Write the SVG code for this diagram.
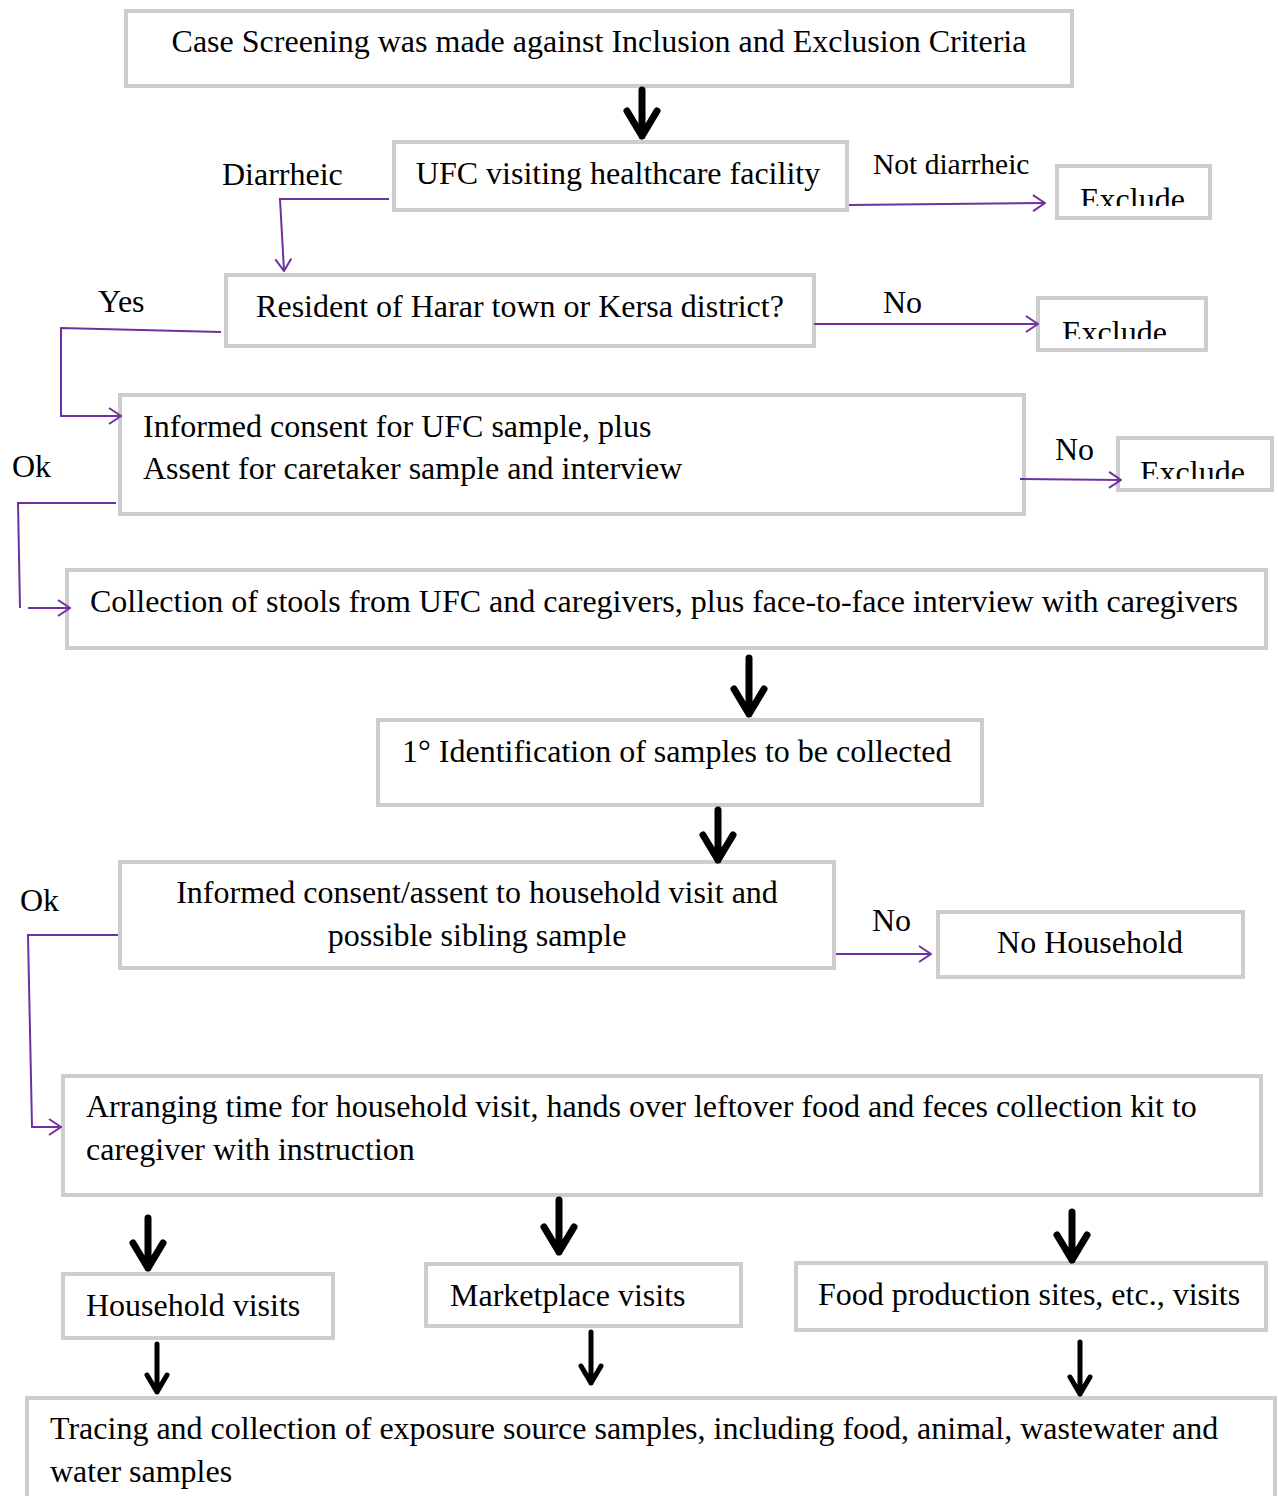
<svg xmlns="http://www.w3.org/2000/svg" width="1278" height="1496" viewBox="0 0 1278 1496">
<style>
.box{fill:#fff;stroke:#cdcdcd;stroke-width:4}
.t{font-family:"Liberation Serif","Times New Roman",serif;font-size:32px;fill:#000}
.s{font-size:29.5px}
.c{stroke:#7030a0;stroke-width:2;fill:none}
.ba{stroke:#000;stroke-width:7;fill:none;stroke-linecap:round;stroke-linejoin:round}
.bs{stroke:#000;stroke-width:5;fill:none;stroke-linecap:round;stroke-linejoin:round}
</style>
<defs>
<marker id="pa" markerUnits="userSpaceOnUse" markerWidth="14" markerHeight="20" refX="13" refY="10" orient="auto" viewBox="0 0 14 20">
<path d="M1,2 L13,10 L1,18" fill="none" stroke="#7030a0" stroke-width="2"/>
</marker>
<clipPath id="cx1"><rect x="1059" y="168" width="149" height="38"/></clipPath>
<clipPath id="cx2"><rect x="1040" y="300" width="164" height="39"/></clipPath>
<clipPath id="cx3"><rect x="1120" y="440" width="150" height="39"/></clipPath>
</defs>
<rect width="1278" height="1496" fill="#fff"/>

<g id="n1"><rect class="box" x="126" y="11" width="946" height="75"/><text class="t" x="599" y="52" text-anchor="middle">Case Screening was made against Inclusion and Exclusion Criteria</text></g>
<g id="n2"><rect class="box" x="394" y="142" width="453" height="68"/><text class="t" x="618" y="184" text-anchor="middle">UFC visiting healthcare facility</text></g>
<g id="x1"><rect class="box" x="1057" y="166" width="153" height="52"/><text class="t" x="1080" y="210" clip-path="url(#cx1)">Exclude</text></g>
<g id="n3"><rect class="box" x="226" y="275" width="588" height="71"/><text class="t" x="520" y="317" text-anchor="middle">Resident of Harar town or Kersa district?</text></g>
<g id="x2"><rect class="box" x="1038" y="298" width="168" height="52"/><text class="t" x="1062" y="343" clip-path="url(#cx2)">Exclude</text></g>
<g id="n4"><rect class="box" x="120" y="395" width="904" height="119"/><text class="t" x="143" y="437">Informed consent for UFC sample, plus</text><text class="t" x="143" y="479">Assent for caretaker sample and interview</text></g>
<g id="x3"><rect class="box" x="1118" y="438" width="154" height="52"/><text class="t" x="1140" y="483" clip-path="url(#cx3)">Exclude</text></g>
<g id="n5"><rect class="box" x="67" y="570" width="1199" height="78"/><text class="t" x="90" y="612">Collection of stools from UFC and caregivers, plus face-to-face interview with caregivers</text></g>
<g id="n6"><rect class="box" x="378" y="720" width="604" height="85"/><text class="t" x="402" y="762">1° Identification of samples to be collected</text></g>
<g id="n7"><rect class="box" x="120" y="862" width="714" height="106"/><text class="t" x="477" y="903" text-anchor="middle">Informed consent/assent to household visit and</text><text class="t" x="477" y="946" text-anchor="middle">possible sibling sample</text></g>
<g id="n8"><rect class="box" x="938" y="912" width="305" height="65"/><text class="t" x="1090" y="953" text-anchor="middle">No Household</text></g>
<g id="n9"><rect class="box" x="63" y="1076" width="1198" height="119"/><text class="t" x="86" y="1117">Arranging time for household visit, hands over leftover food and feces collection kit to</text><text class="t" x="86" y="1160">caregiver with instruction</text></g>
<g id="n10"><rect class="box" x="63" y="1274" width="270" height="64"/><text class="t" x="86" y="1316">Household visits</text></g>
<g id="n11"><rect class="box" x="426" y="1264" width="315" height="62"/><text class="t" x="450" y="1306">Marketplace visits</text></g>
<g id="n12"><rect class="box" x="796" y="1263" width="470" height="67"/><text class="t" x="818" y="1305">Food production sites, etc., visits</text></g>
<g id="n13"><rect class="box" x="27" y="1398" width="1248" height="120"/><text class="t" x="50" y="1439">Tracing and collection of exposure source samples, including food, animal, wastewater and</text><text class="t" x="50" y="1482">water samples</text></g>

<g id="labels">
<text class="t s" x="873" y="174">Not diarrheic</text>
<text class="t" x="222" y="185">Diarrheic</text>
<text class="t" x="98" y="312">Yes</text>
<text class="t" x="883" y="313">No</text>
<text class="t" x="1055" y="460">No</text>
<text class="t" x="12" y="477">Ok</text>
<text class="t" x="20" y="911">Ok</text>
<text class="t" x="872" y="931">No</text>
</g>

<g id="connectors">
<path class="ba" d="M642,90 V136 M627,111 L642,136 L657,111"/>
<path class="ba" d="M749,658 V714 M734,689 L749,714 L764,689"/>
<path class="ba" d="M718,810 V860 M703,835 L718,860 L733,835"/>
<path class="ba" d="M148,1218 V1268 M133,1243 L148,1268 L163,1243"/>
<path class="ba" d="M559,1200 V1252 M544,1227 L559,1252 L574,1227"/>
<path class="ba" d="M1072,1212 V1260 M1057,1235 L1072,1260 L1087,1235"/>
<path class="bs" d="M157,1344 V1392 M147,1375 L157,1392 L167,1375"/>
<path class="bs" d="M591,1332 V1383 M581,1366 L591,1383 L601,1366"/>
<path class="bs" d="M1080,1342 V1394 M1070,1377 L1080,1394 L1090,1377"/>
<path class="c" d="M849,205 L1045,203" marker-end="url(#pa)"/>
<path class="c" d="M389,199 L280,199 L284,271" marker-end="url(#pa)"/>
<path class="c" d="M814,324 L1038,324" marker-end="url(#pa)"/>
<path class="c" d="M221,332 L61,328 L61,416 L121,416" marker-end="url(#pa)"/>
<path class="c" d="M1020,479 L1121,480" marker-end="url(#pa)"/>
<path class="c" d="M116,503 L18,503 L20,608"/>
<path class="c" d="M28,608 L70,608" marker-end="url(#pa)"/>
<path class="c" d="M836,954 L931,954" marker-end="url(#pa)"/>
<path class="c" d="M118,935 L28,935 L32,1127 L61,1127" marker-end="url(#pa)"/>
</g>
</svg>
